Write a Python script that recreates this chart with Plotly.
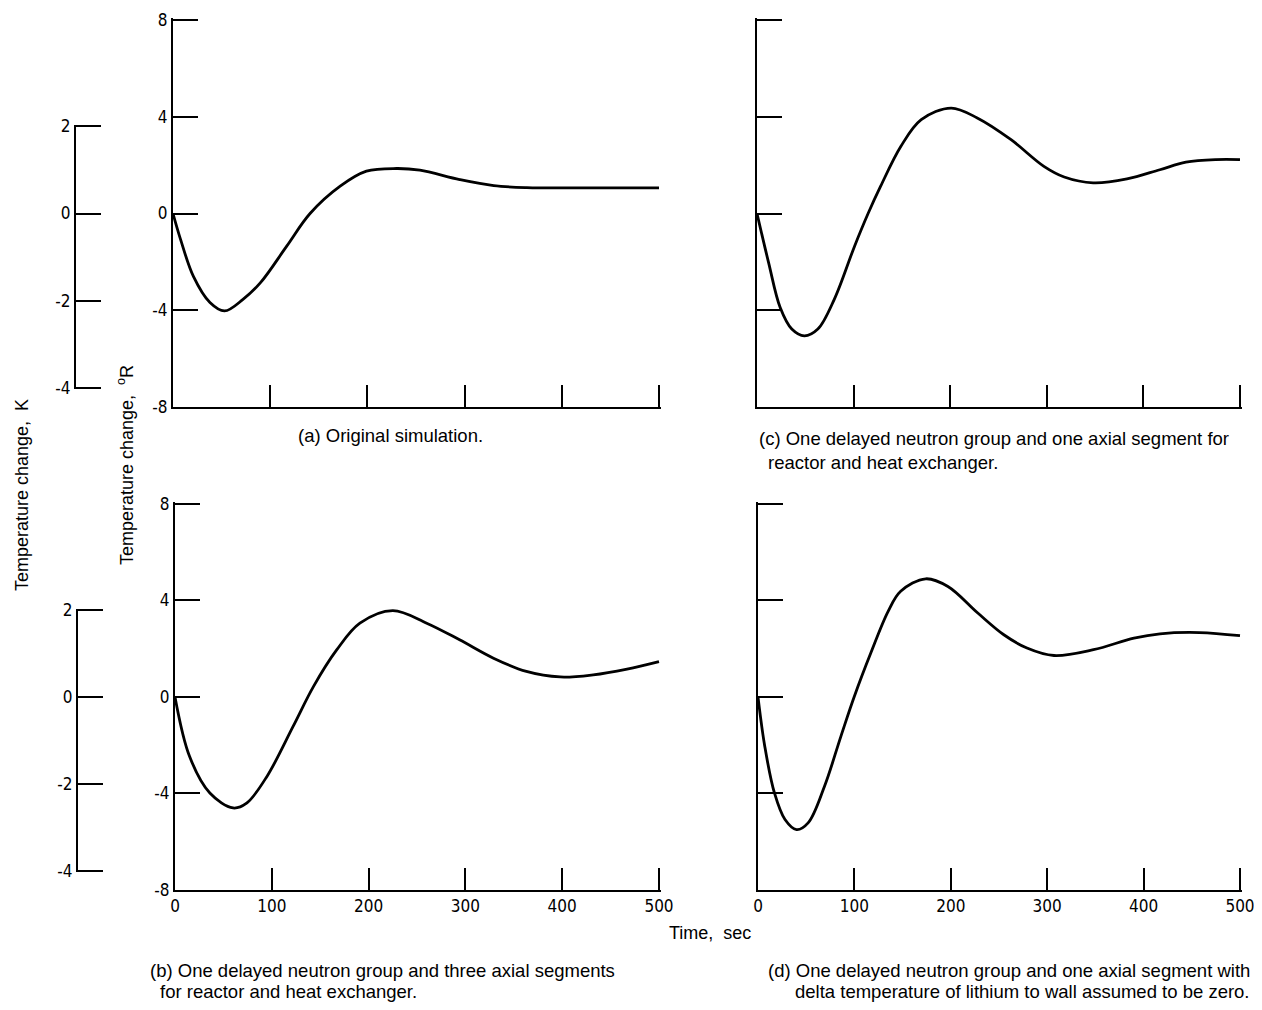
import plotly.graph_objects as go

# ---------------- data ----------------
t_a = [0, 8, 21, 38, 53, 72, 90, 117, 141, 172, 199, 230, 254, 295, 330, 364, 432, 500]
temp_a = [0, -1.1, -2.6, -3.68, -4.03, -3.55, -2.86, -1.35, 0, 1.13, 1.75, 1.86, 1.79, 1.40, 1.15, 1.07, 1.06, 1.06]

t_b = [0, 15, 36, 60, 74, 95, 122, 143, 167, 191, 225, 260, 294, 329, 363, 398, 432, 467, 500]
temp_b = [0, -2.46, -3.98, -4.6, -4.4, -3.29, -1.22, 0.43, 1.95, 3.06, 3.58, 3.06, 2.37, 1.61, 1.06, 0.83, 0.92, 1.16, 1.47]

t_c = [0, 12, 24, 36, 49, 63, 80, 101, 115, 128, 149, 170, 201, 228, 263, 297, 318, 348, 383, 417, 444, 475, 500]
temp_c = [0, -2.03, -3.89, -4.78, -5.06, -4.78, -3.55, -1.35, 0, 1.13, 2.78, 3.88, 4.36, 3.95, 3.05, 1.95, 1.51, 1.27, 1.43, 1.81, 2.12, 2.23, 2.23]

t_d = [0, 7, 17, 28, 40, 52, 69, 86, 100, 117, 135, 148, 174, 197, 228, 255, 279, 307, 348, 390, 417, 458, 500]
temp_d = [0, -2.04, -3.97, -5.08, -5.5, -5.22, -3.7, -1.63, 0.03, 1.82, 3.55, 4.38, 4.9, 4.58, 3.48, 2.58, 2.03, 1.72, 1.96, 2.44, 2.62, 2.67, 2.54]

x_ticks = [0, 100, 200, 300, 400, 500]
r_ticks = [-8, -4, 0, 4, 8]
k_ticks = [-4, -2, 0, 2]
X_RANGE = [0, 500]
R_RANGE = [-8, 8]
K_RANGE = [-4, 2]
R_PER_K = 1.8

captions = {
    "a": ["(a) Original simulation."],
    "c": ["(c) One delayed neutron group and one axial segment for",
          "reactor and heat exchanger."],
    "b": ["(b) One delayed neutron group and three axial segments",
          "for reactor and heat exchanger."],
    "d": ["(d) One delayed neutron group and one axial segment with",
          "delta temperature of lithium to wall assumed to be zero."],
}

# ---------------- layout geometry ----------------
PAGE_W, PAGE_H = 1262, 1010
BODY = 8  # default page margin before the figure
W, H = PAGE_W - BODY, PAGE_H - BODY
def px_x(p):
    return (p - BODY) / W
def px_y(p):
    return 1 - (p - BODY) / H

EPS = 0.004  # tiny padding so the end ticks are not culled

def padded(rng, lo=False, hi=True):
    span = rng[1] - rng[0]
    return [rng[0] - (EPS * span if lo else 0), rng[1] + (EPS * span if hi else 0)]

def padded_domain(d0, d1, lo=False, hi=True):
    span = d1 - d0
    return [d0 - (EPS * span if lo else 0), d1 + (EPS * span if hi else 0)]

TICK_FONT = dict(family="Liberation Sans Narrow, DejaVu Sans Condensed, Arial Narrow, Liberation Sans, sans-serif",
                 size=17, color="black")
TEXT_FONT = dict(family="Liberation Sans, Arial, sans-serif", size=18, color="black")
CAP_FONT = dict(family="Liberation Sans, Arial, sans-serif", size=18.5, color="black")

panels = {
    # name: (x0, x1, ytop, ybottom) in page pixels
    "a": (173, 659, 20, 407),
    "c": (757, 1240, 20, 407),
    "b": (175, 659, 504, 890),
    "d": (758, 1240, 504, 890),
}
order = ["a", "c", "b", "d"]
data = {"a": (t_a, temp_a), "b": (t_b, temp_b), "c": (t_c, temp_c), "d": (t_d, temp_d)}

fig = go.Figure()
layout = {}
for i, name in enumerate(order, start=1):
    x0, x1, yt, yb = panels[name]
    sfx = "" if i == 1 else str(i)
    left = name in ("a", "b")
    bottom = name in ("b", "d")
    layout["xaxis" + sfx] = dict(
        domain=padded_domain(px_x(x0), px_x(x1)), range=padded(X_RANGE), anchor="y" + sfx,
        showline=True, linecolor="black", linewidth=2, mirror=False,
        ticks="inside", ticklen=22, tickwidth=2, tickcolor="black",
        tickmode="array", tickvals=x_ticks, ticktext=[str(v) for v in x_ticks],
        showticklabels=bottom, tickfont=TICK_FONT, automargin=False,
        ticklabeloverflow="allow",
        showgrid=False, zeroline=False,
    )
    layout["yaxis" + sfx] = dict(
        domain=padded_domain(px_y(yb), px_y(yt)), range=padded(R_RANGE), anchor="x" + sfx,
        showline=True, linecolor="black", linewidth=2, mirror=False,
        ticks="inside", ticklen=25, tickwidth=2, tickcolor="black",
        tickmode="array", tickvals=r_ticks, ticktext=[str(v) for v in r_ticks],
        showticklabels=left, tickfont=TICK_FONT, automargin=False,
        ticklabeloverflow="allow",
        showgrid=False, zeroline=False,
    )
    t, v = data[name]
    fig.add_trace(go.Scatter(
        x=t, y=v, mode="lines", xaxis="x" + sfx, yaxis="y" + sfx,
        line=dict(color="black", width=2.8, shape="spline", smoothing=1.0),
        showlegend=False, hoverinfo="skip",
    ))

# Kelvin axes aligned with the degree-Rankine axes (0 K change = 0 R change)
k_axes = {"a": ("5", 75), "b": ("6", 77)}
for name, (sfx, xpos) in k_axes.items():
    x0, x1, yt, yb = panels[name]
    d0, d1 = px_y(yb), px_y(yt)
    span = d1 - d0
    r_lo = K_RANGE[0] * R_PER_K
    r_hi = K_RANGE[1] * R_PER_K
    kd0 = d0 + (r_lo - R_RANGE[0]) / (R_RANGE[1] - R_RANGE[0]) * span
    kd1 = d0 + (r_hi - R_RANGE[0]) / (R_RANGE[1] - R_RANGE[0]) * span
    layout["yaxis" + sfx] = dict(
        domain=padded_domain(kd0, kd1, lo=True), range=padded(K_RANGE, lo=True),
        anchor="free", position=px_x(xpos),
        showline=True, linecolor="black", linewidth=2,
        ticks="inside", ticklen=25, tickwidth=2, tickcolor="black",
        tickmode="array", tickvals=k_ticks, ticktext=[str(v) for v in k_ticks],
        tickfont=TICK_FONT, showgrid=False, zeroline=False, automargin=False,
        ticklabeloverflow="allow",
    )
    xsfx = "" if name == "a" else "3"
    t, v = data[name]
    fig.add_trace(go.Scatter(
        x=t, y=[val / R_PER_K for val in v], mode="lines",
        xaxis="x" + xsfx, yaxis="y" + sfx,
        line=dict(color="rgba(0,0,0,0)", width=0),
        showlegend=False, hoverinfo="skip",
    ))

annotations = [
    dict(text="Temperature change,  K", x=px_x(22), y=px_y(495), textangle=-90,
         xanchor="center", yanchor="middle",
         showarrow=False, font=TEXT_FONT, xref="paper", yref="paper"),
    dict(text="Temperature change,  <sup>o</sup>R", x=px_x(126), y=px_y(465), textangle=-90,
         xanchor="center", yanchor="middle",
         showarrow=False, font=TEXT_FONT, xref="paper", yref="paper"),
    dict(text="Time,  sec", x=px_x(710), y=px_y(933), xanchor="center", yanchor="middle",
         showarrow=False, font=TEXT_FONT, xref="paper", yref="paper"),
]
cap_pos = {
    "a": [(390, 435, "center")],
    "c": [(757, 439, "left"), (766, 462, "left")],
    "b": [(148, 970, "left"), (158, 991, "left")],
    "d": [(1252, 970, "right"), (1252, 991, "right")],
}
for name, lines in captions.items():
    for txt, (px, py, anc) in zip(lines, cap_pos[name]):
        annotations.append(dict(text=txt, x=px_x(px), y=px_y(py), xanchor=anc,
                                yanchor="middle", showarrow=False, font=CAP_FONT,
                                xref="paper", yref="paper"))

fig.update_layout(
    template="none",
    width=W, height=H, autosize=False,
    margin=dict(l=0, r=0, t=0, b=0, autoexpand=False),
    paper_bgcolor="white", plot_bgcolor="rgba(0,0,0,0)",
    annotations=annotations, showlegend=False,
    **layout,
)

fig.write_html("out.html")
